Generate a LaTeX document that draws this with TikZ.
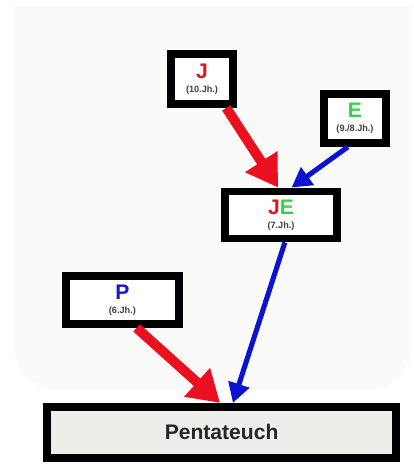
\documentclass[tikz,border=0pt]{standalone}
\usepackage{fontspec}
\setmainfont{Liberation Sans}
\usetikzlibrary{arrows.meta}

\definecolor{jred}{HTML}{E3141E}
\definecolor{egreen}{HTML}{38CF4C}
\definecolor{pblue}{HTML}{1A14CC}
\definecolor{arrred}{HTML}{EA1020}
\definecolor{arrblue}{HTML}{0C12D2}
\definecolor{backfill}{HTML}{FAFAF9}
\definecolor{pentfill}{HTML}{EEEDE9}

\newcommand{\siglum}[1]{{\fontsize{15}{15}\selectfont #1}}
\newcommand{\epoch}[1]{{\color{black!75}#1}}

\begin{document}
\begin{tikzpicture} [
  src/.style={draw=black, line width=5.6pt, fill=white, inner sep=0pt, align=center,
    font=\fontsize{6.5}{10}\selectfont\bfseries},
  redarrow/.style={arrred, line width=7pt, -{Triangle[length=22pt,width=26pt]}},
  bluearrow/.style={arrblue, line width=3.6pt, -{Triangle[length=14pt,width=15pt]}}
]

\useasboundingbox (0,0) rectangle (10.325,11.6);
\fill [backfill] (0.35,11.45) -- (10.3,11.45) {[rounded corners=1.1cm] -- (10.3,1.85) -- (0.35,1.85)} -- cycle;

\node [src, minimum width=1.55cm, minimum height=1.25cm] (J) at (5.05,9.625)
  {\siglum{\color{jred}J}\\\epoch{(10.Jh.)}};
\node [src, minimum width=1.55cm, minimum height=1.225cm] (E) at (8.875,8.64)
  {\siglum{\color{egreen}E}\\\epoch{(9./8.Jh.)}};
\node [src, minimum width=2.8cm, minimum height=1.175cm] (JE) at (7.025,6.225)
  {\siglum{\color{jred}J\color{egreen}E}\\\epoch{(7.Jh.)}};
\node [src, minimum width=2.825cm, minimum height=1.2cm] (P) at (3.06,4.1)
  {\siglum{\color{pblue}P}\\\epoch{(6.Jh.)}};
\node [src, fill=pentfill, minimum width=8.725cm, minimum height=1.275cm,
  font=\fontsize{15}{15}\selectfont\bfseries, text=black!85] (Pent) at (5.54,0.79) {Pentateuch};

\draw [redarrow] (J.-50) -- (JE.96);
\draw [bluearrow] (E.-104) -- (JE.69);
\draw [bluearrow] (JE.-82) -- (Pent.69);
\draw [redarrow] (P.-63) -- (Pent.93);

\end{tikzpicture}
\end{document}
